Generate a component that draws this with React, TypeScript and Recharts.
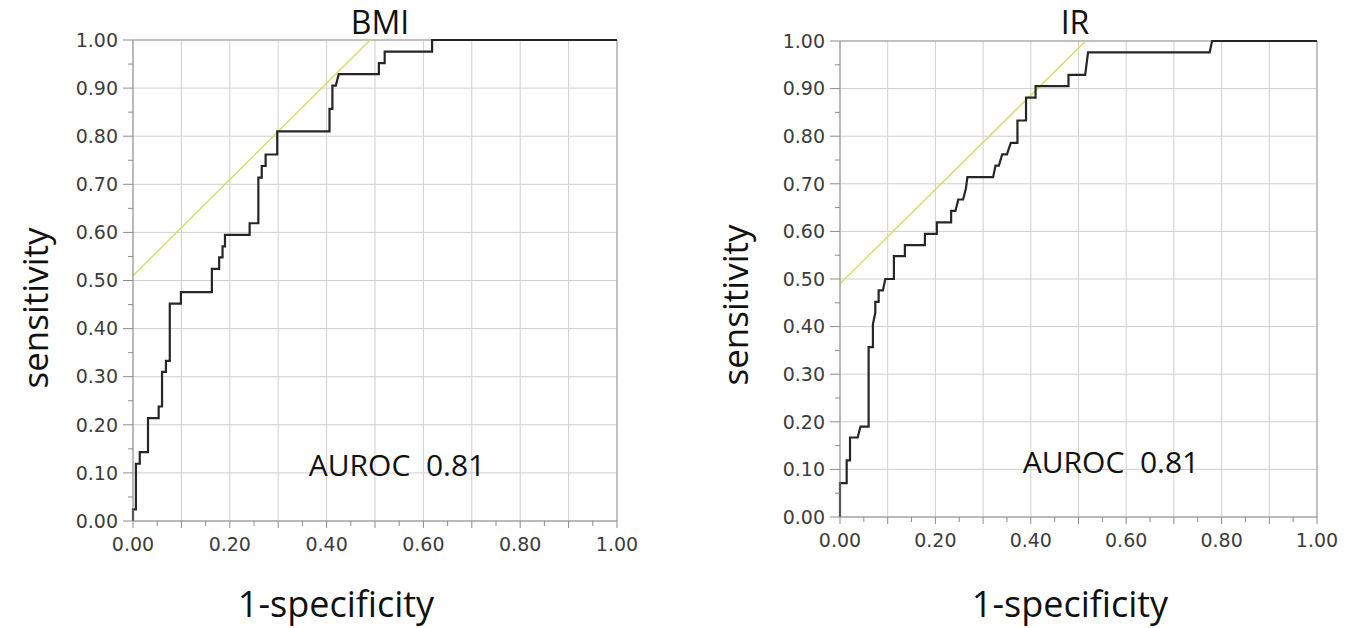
import React from "react";
import { CartesianGrid, Line, LineChart, ReferenceLine, XAxis, YAxis } from "recharts";

// ROC curve of BMI (1-specificity, sensitivity)
const bmiFpr = [0, 0, 0.006, 0.006, 0.014, 0.014, 0.031, 0.031, 0.053, 0.053, 0.06, 0.06, 0.068, 0.068, 0.076, 0.076, 0.099, 0.099, 0.163, 0.163, 0.178, 0.178, 0.185, 0.185, 0.19, 0.19, 0.241, 0.241, 0.259, 0.259, 0.266, 0.266, 0.274, 0.274, 0.298, 0.298, 0.406, 0.406, 0.412, 0.412, 0.419, 0.425, 0.508, 0.508, 0.52, 0.52, 0.618, 0.618, 1];
const bmiTpr = [0, 0.024, 0.024, 0.119, 0.119, 0.143, 0.143, 0.214, 0.214, 0.238, 0.238, 0.31, 0.31, 0.333, 0.333, 0.452, 0.452, 0.476, 0.476, 0.524, 0.524, 0.548, 0.548, 0.571, 0.571, 0.595, 0.595, 0.619, 0.619, 0.714, 0.714, 0.738, 0.738, 0.762, 0.762, 0.81, 0.81, 0.857, 0.857, 0.905, 0.905, 0.929, 0.929, 0.952, 0.952, 0.976, 0.976, 1, 1];

// ROC curve of IR
const irFpr = [0, 0, 0.014, 0.014, 0.021, 0.021, 0.037, 0.043, 0.06, 0.06, 0.069, 0.069, 0.074, 0.074, 0.081, 0.081, 0.09, 0.095, 0.113, 0.113, 0.136, 0.136, 0.178, 0.178, 0.203, 0.203, 0.233, 0.233, 0.242, 0.248, 0.258, 0.264, 0.267, 0.321, 0.326, 0.333, 0.34, 0.35, 0.358, 0.372, 0.372, 0.39, 0.39, 0.41, 0.41, 0.479, 0.479, 0.514, 0.52, 0.775, 0.78, 1];
const irTpr = [0, 0.071, 0.071, 0.119, 0.119, 0.167, 0.167, 0.19, 0.19, 0.357, 0.357, 0.405, 0.429, 0.452, 0.452, 0.476, 0.476, 0.5, 0.5, 0.548, 0.548, 0.571, 0.571, 0.595, 0.595, 0.619, 0.619, 0.643, 0.643, 0.667, 0.667, 0.69, 0.714, 0.714, 0.738, 0.738, 0.762, 0.762, 0.786, 0.786, 0.833, 0.833, 0.881, 0.881, 0.905, 0.905, 0.929, 0.929, 0.976, 0.976, 1, 1];

// yellow tangent lines
const bmiTangentX = [0, 0.49];
const bmiTangentY = [0.51, 1];
const irTangentX = [0, 0.515];
const irTangentY = [0.49, 1];

const xTicks = [0, 0.05, 0.1, 0.15, 0.2, 0.25, 0.3, 0.35, 0.4, 0.45, 0.5, 0.55, 0.6, 0.65, 0.7, 0.75, 0.8, 0.85, 0.9, 0.95, 1];
const yTicks = xTicks;
const gridValues = [0, 0.1, 0.2, 0.3, 0.4, 0.5, 0.6, 0.7, 0.8, 0.9, 1];
const xLabelled = [0, 0.2, 0.4, 0.6, 0.8, 1];
const yLabelled = gridValues;

const zip = (xs: number[], ys: number[]) => xs.map((x, i) => ({ x, y: ys[i] }));
const has = (list: number[], v: number) => list.some((t) => Math.abs(t - v) < 1e-6);

const tickFont = { fontFamily: "DejaVu Sans", fontSize: 19, fill: "#3c3c3c" };
const titleFont = "'Open Sans', sans-serif";

const XTick = (props: any) => {
  const { x, y, payload } = props;
  const major = has(gridValues, payload.value);
  return (
    <g>
      <line x1={x} x2={x} y1={y} y2={y + (major ? 7 : 5)} stroke="#8c8c8c" />
      {has(xLabelled, payload.value) && (
        <text x={x} y={y + 17} dy="0.71em" textAnchor="middle" {...tickFont}>
          {payload.value.toFixed(2)}
        </text>
      )}
    </g>
  );
};

const YTick = (props: any) => {
  const { x, y, payload } = props;
  const major = has(gridValues, payload.value);
  return (
    <g>
      <line x1={x - (major ? 10 : 5)} x2={x} y1={y} y2={y} stroke="#8c8c8c" />
      {has(yLabelled, payload.value) && (
        <text x={x - 15} y={y} dy="0.355em" textAnchor="end" {...tickFont}>
          {payload.value.toFixed(2)}
        </text>
      )}
    </g>
  );
};

type RocProps = {
  width: number;
  margin: { top: number; right: number; bottom: number; left: number };
  curve: { x: number; y: number }[];
  tangent: { x: number; y: number }[];
};

const RocChart = ({ width, margin, curve, tangent }: RocProps) => (
  <LineChart width={width} height={628} margin={margin}>
    <CartesianGrid stroke="#cfcfcf" verticalValues={gridValues} horizontalValues={gridValues} />
    <XAxis
      type="number"
      dataKey="x"
      domain={[0, 1]}
      ticks={xTicks}
      interval={0}
      height={30}
      tickLine={false}
      tickSize={0}
      tickMargin={0}
      stroke="#8c8c8c"
      tick={<XTick />}
    />
    <YAxis
      type="number"
      dataKey="y"
      domain={[0, 1]}
      ticks={yTicks}
      interval={0}
      width={60}
      tickLine={false}
      tickSize={0}
      tickMargin={0}
      stroke="#8c8c8c"
      tick={<YTick />}
    />
    <ReferenceLine y={1} stroke="#9a9a9a" />
    <ReferenceLine x={1} stroke="#9a9a9a" />
    <Line data={tangent} dataKey="y" stroke="#d8dc70" strokeWidth={1.5} dot={false} isAnimationActive={false} />
    <Line data={curve} dataKey="y" stroke="#262626" strokeWidth={2.2} dot={false} isAnimationActive={false} />
  </LineChart>
);

const Label = ({ x, y, size, text, rotate }: { x: number; y: number; size: number; text: string; rotate?: boolean }) => (
  <div
    style={{
      position: "absolute",
      left: x,
      top: y,
      transform: `translate(-50%, -50%)${rotate ? " rotate(-90deg)" : ""}`,
      fontFamily: titleFont,
      fontSize: size,
      lineHeight: 1.3,
      whiteSpace: "pre",
      color: "#111",
    }}
  >
    {text}
  </div>
);

export default function App() {
  return (
    <div style={{ position: "absolute", left: 0, top: 0, width: 1345, height: 628, background: "#fff" }}>
      <div style={{ position: "absolute", left: 0, top: 0 }}>
        <RocChart
          width={660}
          margin={{ top: 40, right: 43, bottom: 77, left: 73 }}
          curve={zip(bmiFpr, bmiTpr)}
          tangent={zip(bmiTangentX, bmiTangentY)}
        />
      </div>
      <div style={{ position: "absolute", left: 700, top: 0 }}>
        <RocChart
          width={645}
          margin={{ top: 41, right: 28, bottom: 81, left: 80 }}
          curve={zip(irFpr, irTpr)}
          tangent={zip(irTangentX, irTangentY)}
        />
      </div>
      <Label x={380} y={22} size={32} text="BMI" />
      <Label x={1075} y={22} size={32} text="IR" />
      <Label x={35} y={308} size={35} text="sensitivity" rotate />
      <Label x={735} y={305} size={35} text="sensitivity" rotate />
      <Label x={336} y={604} size={36} text="1-specificity" />
      <Label x={1070} y={604} size={36} text="1-specificity" />
      <Label x={397} y={464} size={30} text={"AUROC  0.81"} />
      <Label x={1111} y={461} size={30} text={"AUROC  0.81"} />
    </div>
  );
}
